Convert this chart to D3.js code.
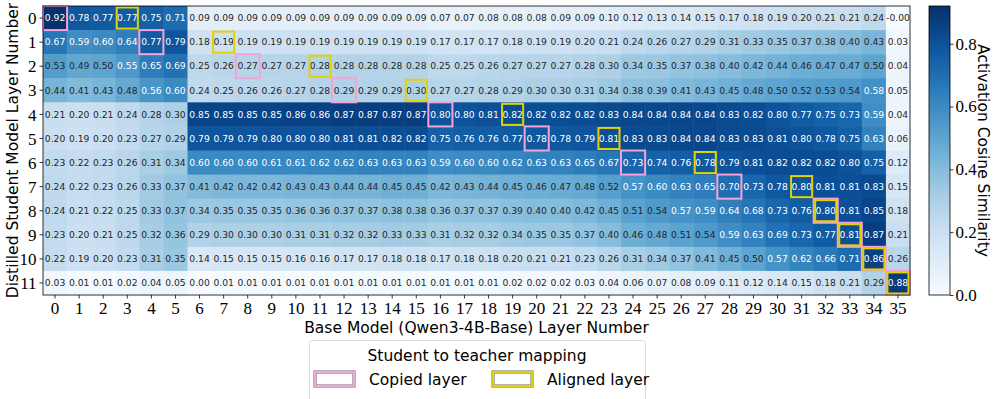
<!DOCTYPE html>
<html>
<head>
<meta charset="utf-8">
<script src="https://cdn.jsdelivr.net/npm/d3@7"></script>
<style>
  body { margin: 0; background: #ffffff; }
  svg { display: block; }
</style>
</head>
<body>
<svg id="chart" width="996" height="399"></svg>
<script>
// base model layers (columns) and student layers (rows)
var baseLayers = d3.range( 36 );
var studentLayers = d3.range( 12 );

// cosine similarity, one array per student layer
var row0  = [0.92,0.78,0.77,0.77,0.75,0.71,0.09,0.09,0.09,0.09,0.09,0.09,0.09,0.09,0.09,0.09,0.07,0.07,0.08,0.08,0.08,0.09,0.09,0.10,0.12,0.13,0.14,0.15,0.17,0.18,0.19,0.20,0.21,0.21,0.24,-0.001];
var row1  = [0.67,0.59,0.60,0.64,0.77,0.79,0.18,0.19,0.19,0.19,0.19,0.19,0.19,0.19,0.19,0.19,0.17,0.17,0.17,0.18,0.19,0.19,0.20,0.21,0.24,0.26,0.27,0.29,0.31,0.33,0.35,0.37,0.38,0.40,0.43,0.03];
var row2  = [0.53,0.49,0.50,0.55,0.65,0.69,0.25,0.26,0.27,0.27,0.27,0.28,0.28,0.28,0.28,0.28,0.25,0.25,0.26,0.27,0.27,0.27,0.28,0.30,0.34,0.35,0.37,0.38,0.40,0.42,0.44,0.46,0.47,0.47,0.50,0.04];
var row3  = [0.44,0.41,0.43,0.48,0.56,0.60,0.24,0.25,0.26,0.26,0.27,0.28,0.29,0.29,0.29,0.30,0.27,0.27,0.28,0.29,0.30,0.30,0.31,0.34,0.38,0.39,0.41,0.43,0.45,0.48,0.50,0.52,0.53,0.54,0.58,0.05];
var row4  = [0.21,0.20,0.21,0.24,0.28,0.30,0.85,0.85,0.85,0.85,0.86,0.86,0.87,0.87,0.87,0.87,0.80,0.80,0.81,0.82,0.82,0.82,0.82,0.83,0.84,0.84,0.84,0.84,0.83,0.82,0.80,0.77,0.75,0.73,0.59,0.04];
var row5  = [0.20,0.19,0.20,0.23,0.27,0.29,0.79,0.79,0.79,0.80,0.80,0.80,0.81,0.81,0.82,0.82,0.75,0.76,0.76,0.77,0.78,0.78,0.79,0.81,0.83,0.83,0.84,0.84,0.83,0.83,0.81,0.80,0.78,0.75,0.63,0.06];
var row6  = [0.23,0.22,0.23,0.26,0.31,0.34,0.60,0.60,0.60,0.61,0.61,0.62,0.62,0.63,0.63,0.63,0.59,0.60,0.60,0.62,0.63,0.63,0.65,0.67,0.73,0.74,0.76,0.78,0.79,0.81,0.82,0.82,0.82,0.80,0.75,0.12];
var row7  = [0.24,0.22,0.23,0.26,0.33,0.37,0.41,0.42,0.42,0.42,0.43,0.43,0.44,0.44,0.45,0.45,0.42,0.43,0.44,0.45,0.46,0.47,0.48,0.52,0.57,0.60,0.63,0.65,0.70,0.73,0.78,0.80,0.81,0.81,0.83,0.15];
var row8  = [0.24,0.21,0.22,0.25,0.33,0.37,0.34,0.35,0.35,0.35,0.36,0.36,0.37,0.37,0.38,0.38,0.36,0.37,0.37,0.39,0.40,0.40,0.42,0.45,0.51,0.54,0.57,0.59,0.64,0.68,0.73,0.76,0.80,0.81,0.85,0.18];
var row9  = [0.23,0.20,0.21,0.25,0.32,0.36,0.29,0.30,0.30,0.30,0.31,0.31,0.32,0.32,0.33,0.33,0.31,0.32,0.32,0.34,0.35,0.35,0.37,0.40,0.46,0.48,0.51,0.54,0.59,0.63,0.69,0.73,0.77,0.81,0.87,0.21];
var row10 = [0.22,0.19,0.20,0.23,0.31,0.35,0.14,0.15,0.15,0.15,0.16,0.16,0.17,0.17,0.18,0.18,0.17,0.18,0.18,0.20,0.21,0.21,0.23,0.26,0.31,0.34,0.37,0.41,0.45,0.50,0.57,0.62,0.66,0.71,0.86,0.26];
var row11 = [0.03,0.01,0.01,0.02,0.04,0.05,0.00,0.01,0.01,0.01,0.01,0.01,0.01,0.01,0.01,0.01,0.01,0.01,0.01,0.02,0.02,0.02,0.03,0.04,0.06,0.07,0.08,0.09,0.11,0.12,0.14,0.15,0.18,0.21,0.29,0.88];
var rows = [row0,row1,row2,row3,row4,row5,row6,row7,row8,row9,row10,row11];

// base layer matched to each student layer
var copiedLayer  = [0,4,8,12,16,20,24,28,32,33,34,35];
var alignedLayer = [3,7,11,15,19,23,27,31,32,33,34,35];

var cbarTicks = [0.0, 0.2, 0.4, 0.6, 0.8];

var PINK = "#f4a3d9";
var YELLOW = "#e3d200";
var serif = "'Liberation Serif', 'DejaVu Serif', serif";
var sans = "'DejaVu Sans', sans-serif";

var svg = d3.select( "#chart" );
// note: "top" is taken by window.top, so use hm* names
var hmLeft = 43, hmTop = 6, hmRight = 910, hmBottom = 295;

var x = d3.scaleBand().domain( baseLayers ).range( [hmLeft, hmRight] );
var y = d3.scaleBand().domain( studentLayers ).range( [hmTop, hmBottom] );
var vmax = d3.max( rows, function( r ) { return d3.max( r ); } );
var color = d3.scaleSequential( d3.interpolateBlues ).domain( [0, vmax] );

var cells = [];
rows.forEach( function( r, i ) {
    r.forEach( function( v, j ) { cells.push( { row: i, col: j, v: v } ); } );
});

svg.append( "g" ).selectAll( "rect" )
    .data( cells ).enter().append( "rect" )
    .attr( "x", function( d ) { return x( d.col ); } )
    .attr( "y", function( d ) { return y( d.row ); } )
    .attr( "width", x.bandwidth() + 0.5 )
    .attr( "height", y.bandwidth() + 0.5 )
    .attr( "fill", function( d ) { return color( Math.max( 0, d.v ) ); } )
    ;

svg.append( "g" ).selectAll( "text" )
    .data( cells ).enter().append( "text" )
    .attr( "x", function( d ) { return x( d.col ) + x.bandwidth() / 2; } )
    .attr( "y", function( d ) { return y( d.row ) + y.bandwidth() / 2; } )
    .attr( "dy", "0.35em" )
    .attr( "text-anchor", "middle" )
    .style( "font-family", sans )
    .style( "font-size", "9.2px" )
    .attr( "fill", function( d ) { return d.v > 0.545 ? "#ffffff" : "#262626"; } )
    .text( function( d ) { return d.v.toFixed( 2 ); } )
    ;

// mapping boxes: copied (pink) under aligned (yellow)
var drawBoxes = function( cols, stroke, inset ) {
    svg.append( "g" ).selectAll( "rect" )
        .data( cols ).enter().append( "rect" )
        .attr( "x", function( c ) { return x( c ) + inset; } )
        .attr( "y", function( c, i ) { return y( i ) + inset; } )
        .attr( "width", x.bandwidth() - 2 * inset )
        .attr( "height", y.bandwidth() - 2 * inset )
        .attr( "fill", "none" )
        .attr( "stroke", stroke )
        .attr( "stroke-width", 2 )
        ;
};
drawBoxes( copiedLayer, PINK, 0 );
drawBoxes( alignedLayer, YELLOW, 1.5 );

// frame
svg.append( "rect" )
    .attr( "x", hmLeft ).attr( "y", hmTop )
    .attr( "width", hmRight - hmLeft ).attr( "height", hmBottom - hmTop )
    .attr( "fill", "none" ).attr( "stroke", "#000" ).attr( "stroke-width", 0.8 );

var xAxis = svg.append( "g" )
    .attr( "transform", "translate(0," + hmBottom + ")" )
    .call( d3.axisBottom( x ).tickSize( 3.5 ).tickPadding( 3 ) );
var yAxis = svg.append( "g" )
    .attr( "transform", "translate(" + hmLeft + ",0)" )
    .call( d3.axisLeft( y ).tickSize( 3.5 ).tickPadding( 3 ) );
[xAxis, yAxis].forEach( function( a ) {
    a.select( ".domain" ).remove();
    a.selectAll( "line" ).attr( "stroke", "#000" ).attr( "stroke-width", 0.8 );
    a.selectAll( "text" )
        .style( "font-family", serif )
        .style( "font-size", "17px" )
        .attr( "fill", "#000" );
});
yAxis.selectAll( "text" ).attr( "dy", "0.36em" );

svg.append( "text" )
    .attr( "x", ( hmLeft + hmRight ) / 2 ).attr( "y", 333 )
    .attr( "text-anchor", "middle" )
    .style( "font-family", sans ).style( "font-size", "15.5px" )
    .text( "Base Model (Qwen3-4B-Base) Layer Number" );

svg.append( "text" )
    .attr( "transform", "translate(18," + ( hmTop + hmBottom ) / 2 + ") rotate(-90)" )
    .attr( "text-anchor", "middle" )
    .style( "font-family", sans ).style( "font-size", "15.5px" )
    .text( "Distilled Student Model Layer Number" );

// colorbar
var cbX = 929, cbW = 21;
var cbY = d3.scaleLinear().domain( [0, vmax] ).range( [hmBottom, hmTop] );
var defs = svg.append( "defs" );
var grad = defs.append( "linearGradient" )
    .attr( "id", "cbgrad" )
    .attr( "x1", 0 ).attr( "y1", 1 ).attr( "x2", 0 ).attr( "y2", 0 );
d3.range( 0, 1.0001, 0.05 ).forEach( function( t ) {
    grad.append( "stop" )
        .attr( "offset", t )
        .attr( "stop-color", color( t * vmax ) );
});
svg.append( "rect" )
    .attr( "x", cbX ).attr( "y", hmTop )
    .attr( "width", cbW ).attr( "height", hmBottom - hmTop )
    .attr( "fill", "url(#cbgrad)" )
    .attr( "stroke", "#000" ).attr( "stroke-width", 0.8 );
var cbAxis = svg.append( "g" )
    .attr( "transform", "translate(" + ( cbX + cbW ) + ",0)" )
    .call( d3.axisRight( cbY ).tickValues( cbarTicks ).tickFormat( d3.format( ".1f" ) ).tickSize( 3.5 ).tickPadding( 2 ) );
cbAxis.select( ".domain" ).remove();
cbAxis.selectAll( "line" ).attr( "stroke", "#000" ).attr( "stroke-width", 0.8 );
cbAxis.selectAll( "text" )
    .style( "font-family", serif ).style( "font-size", "17px" ).attr( "fill", "#000" );

svg.append( "text" )
    .attr( "transform", "translate(978," + ( hmTop + hmBottom ) / 2 + ") rotate(90)" )
    .attr( "text-anchor", "middle" )
    .style( "font-family", sans ).style( "font-size", "15.5px" )
    .text( "Activation Cosine Similarity" );

// legend
var lg = svg.append( "g" );
lg.append( "rect" )
    .attr( "x", 309.5 ).attr( "y", 340.5 )
    .attr( "width", 336 ).attr( "height", 62 )
    .attr( "rx", 3 )
    .attr( "fill", "#fff" ).attr( "stroke", "#d9d9d9" ).attr( "stroke-width", 0.9 );
lg.append( "text" )
    .attr( "x", 477 ).attr( "y", 361 )
    .attr( "text-anchor", "middle" )
    .style( "font-family", sans ).style( "font-size", "15.5px" )
    .text( "Student to teacher mapping" );
var legendItems = [
    { label: "Copied layer", stroke: PINK, x: 315 },
    { label: "Aligned layer", stroke: YELLOW, x: 493 }
];
legendItems.forEach( function( it ) {
    lg.append( "rect" )
        .attr( "x", it.x ).attr( "y", 372 )
        .attr( "width", 39 ).attr( "height", 14 )
        .attr( "fill", "#fff" ).attr( "stroke", "#9a9a9a" ).attr( "stroke-width", 3.5 );
    lg.append( "rect" )
        .attr( "x", it.x ).attr( "y", 372 )
        .attr( "width", 39 ).attr( "height", 14 )
        .attr( "fill", "none" ).attr( "stroke", it.stroke ).attr( "stroke-width", 2 );
    lg.append( "text" )
        .attr( "x", it.x + 54 ).attr( "y", 385 )
        .style( "font-family", sans ).style( "font-size", "15.5px" )
        .text( it.label );
});
</script>
</body>
</html>
